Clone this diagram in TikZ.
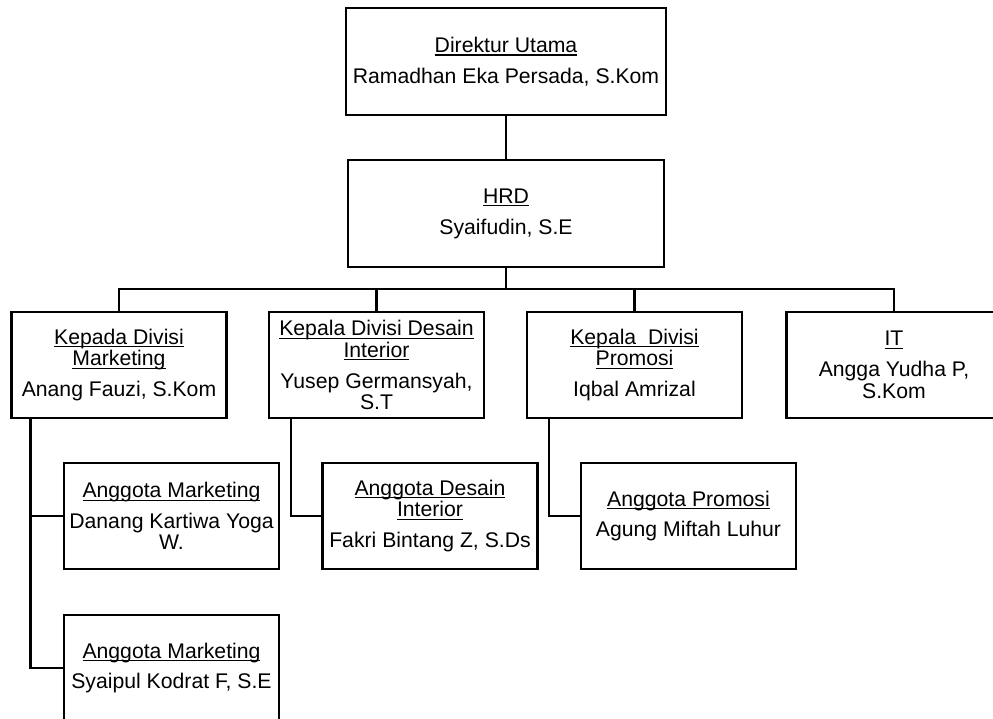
\documentclass[tikz,border=0pt]{standalone}
\usepackage{fontspec}
\setmainfont{Liberation Sans}
\usepackage{tikz}
\usetikzlibrary{calc,positioning}
\newcommand\ulabel[1]{\setbox0\hbox{#1}\rlap{\rule[-2.4pt]{\wd0}{0.8pt}}\box0}
\tikzset{
    every node/.style={font=\fontsize{15.9}{16.2}\selectfont},
    org line/.style={line width=1.6pt},
    top node/.style={draw,line width=1.6pt,rectangle,align=center,inner sep=2pt,minimum height=80.25pt},
    unit node/.style={draw,line width=1.6pt,rectangle,align=center,inner sep=2pt,minimum width=161.25pt,minimum height=79.5pt}
}

\begin{document}
\begin{tikzpicture}[x=0.75pt,y=-0.75pt]

    \useasboundingbox (0,0) rectangle (993,718);
    \clip (0,0) rectangle (993,718);

    % pimpinan
    \node[top node,minimum width=240pt] (dir) at (506,61.5) {\ulabel{Direktur Utama}\\[7pt]Ramadhan Eka Persada, S.Kom};
    \node[top node,minimum width=237pt] (hrd) at (506,213.5) {\ulabel{HRD}\\[7pt]Syaifudin, S.E};

    % kepala divisi
    \node[unit node] (mkt) at (119,365) {\ulabel{Kepada Divisi}\\\ulabel{Marketing}\\[7pt]Anang Fauzi, S.Kom};
    \node[unit node] (dsn) at (376.5,365) {\ulabel{Kepala Divisi Desain}\\\ulabel{Interior}\\[7pt]Yusep Germansyah,\\S.T};
    \node[unit node] (pro) at (634.5,365) {\ulabel{Kepala\ \ Divisi}\\\ulabel{Promosi}\\[7pt]Iqbal Amrizal};
    \node[unit node] (it) at (894,365) {\ulabel{IT}\\[7pt]Angga Yudha P,\\S.Kom};

    % anggota
    \node[unit node] (am1) at (171.5,516) {\ulabel{Anggota Marketing}\\[7pt]Danang Kartiwa Yoga\\W.};
    \node[unit node] (am2) at (171.5,668) {\ulabel{Anggota Marketing}\\[7pt]Syaipul Kodrat F, S.E};
    \node[unit node] (ad) at (430,516) {\ulabel{Anggota Desain}\\\ulabel{Interior}\\[7pt]Fakri Bintang Z, S.Ds};
    \node[unit node] (ap) at (688.5,516) {\ulabel{Anggota Promosi}\\[7pt]Agung Miftah Luhur};

    \coordinate (bus) at (506,289);

    \draw[org line] (dir) -- (hrd);
    \draw[org line] (hrd) -- (bus);
    \draw[org line] (mkt.north) |- (bus) -| (it.north);
    \foreach \n in {dsn,pro} \draw[org line] (\n.north) -- (\n.north |- bus);

    \draw[org line] ([xshift=15pt]mkt.south west) |- (am1.west);
    \draw[org line] ([xshift=15pt]mkt.south west) |- (am2.west);
    \draw[org line] ([xshift=17pt]dsn.south west) |- (ad.west);
    \draw[org line] ([xshift=17pt]pro.south west) |- (ap.west);

\end{tikzpicture}
\end{document}
